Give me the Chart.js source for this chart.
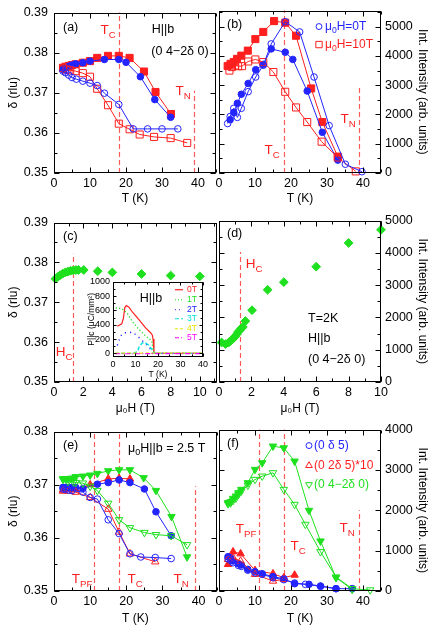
<!DOCTYPE html>
<html><head><meta charset="utf-8">
<script src="https://cdn.jsdelivr.net/npm/chart.js@4.4.1/dist/chart.umd.min.js"></script>
<style>
html,body{margin:0;padding:0;background:#fff;}
body{width:436px;height:626px;overflow:hidden;position:relative;}
canvas{position:absolute;}
</style></head><body>
<script>
// ---------------- DATA ----------------
// reference temperatures / fields
const TC = 18, TN = 39, TPF = 11, HC = 1.3;

// (a) delta vs T, H||b
const aT_0T_fill  = [2.5,3.2,4.1,5,6,8,10,14,18,20,24,28,32.4];
const aD_0T_fill  = [0.3758,0.3762,0.3766,0.3769,0.3772,0.3775,0.3779,0.3783,0.3783,0.3776,0.3740,0.3683,0.3639];
const aT_0T_open  = [2.5,3.2,4.1,5,6.2,8,10,12,14,18,22,26,30,34.4];
const aD_0T_open  = [0.3754,0.3750,0.3744,0.3738,0.3734,0.3729,0.3724,0.3718,0.3699,0.3671,0.3610,0.3610,0.3610,0.3610];
const aT_10T_fill = [2.5,3.2,4.1,5,6,8,10,12,15,18,21,25,28.2,32.5];
const aD_10T_fill = [0.3762,0.3765,0.3767,0.3769,0.3771,0.3775,0.3779,0.3787,0.3792,0.3792,0.3787,0.3753,0.3702,0.3647];
const aT_10T_open = [2.5,3.5,4.5,6,8,10,12,15,18,21,23.8,27.8,32.4,37];
const aD_10T_open = [0.3762,0.3758,0.3756,0.3754,0.3749,0.3740,0.3710,0.3669,0.3623,0.3609,0.3596,0.3590,0.3587,0.3575];

// (b) intensity vs T
const bT_0T_fill  = [3.1,4.1,5.1,6.2,8.1,10.2,12.3,14.5,18.4,20.5,24.5,28.7,33];
const bI_0T_fill  = [1820,2070,2380,2690,3060,3530,3710,4240,4125,3880,2800,1390,440];
const bT_0T_open  = [2.4,3.1,4.1,5.1,6.2,8.1,10.2,12.3,14.5,18.4,22.4,26.4,30.6,35.1,39.7];
const bI_0T_open  = [1690,1930,2210,1900,2210,2780,3280,3680,4410,5170,4820,3280,1620,300,45];
const bT_10T_fill = [2.4,3.2,4.1,5,6.2,8,10.1,12.3,15.3,18.4,21.4,25.6,28.7,33];
const bI_10T_fill = [3653,3730,3790,3900,4010,4180,4575,4820,5190,5135,4690,2890,1740,560];
const bT_10T_open = [2.9,3.6,4.5,5.3,6.4,8.1,10.1,12.3,15.1,18.4,21.4,24.5,28.5,33,38];
const bI_10T_open = [3500,3620,3675,3650,3650,3810,3880,3790,3450,2775,2240,1740,1070,530,55];

// (c) delta vs field, (d) intensity vs field at T=2K
const cH = [0.1,0.27,0.43,0.6,0.78,0.96,1.14,1.32,1.5,1.68,2.04,3,4,6,8,10];
const cD = [0.3759,0.3764,0.3768,0.3772,0.3775,0.3777,0.3779,0.3780,0.3781,0.3781,0.3781,0.3778,0.3775,0.3771,0.3767,0.3765];
const dH = [0.16,0.4,0.6,0.73,0.84,0.94,1.02,1.1,1.18,1.28,1.38,1.47,1.63,2.04,3,4,6,8,10];
const dI = [1224,1173,1224,1276,1327,1378,1429,1480,1551,1602,1663,1704,1888,2224,2857,3092,3571,4306,4714];

// inset: polarization P||c vs T
const inT_0T = [1.9,3.9,4.6,5.3,5.9,7.1,8.6,11.6,14.5,16.7,17.5,17.8,18.2,19,25,30,35,40];
const inP_0T = [378,413,489,644,667,644,578,467,356,289,253,200,13,0,0,0,0,0];
const inT_1T = [1.2,4.1,6.4,8.6,11.6,14.5,17.2,18.2,25,30,35,40];
const inP_1T = [636,622,556,444,333,244,178,0,0,0,0,0];
const inT_2T = [1.9,3.4,4.9,7.1,8.6,10.8,13,15.3,16.7,17.5,25,30,35,40];
const inP_2T = [111,244,289,289,298,244,178,111,58,0,0,0,0,0];
const inT_3T = [1,8.6,10.8,11.6,13,14.5,16,17.5,18.2,25,30,35,40];
const inP_3T = [0,0,22,89,147,147,111,44,0,0,0,0,0];
const inT_4T = [1,10,20,30,40];
const inP_4T = [5,5,3,3,3];
const inT_5T = [1,10,20,30,40];
const inP_5T = [-5,-5,-3,-3,-3];

// (e) delta vs T at 2.5 T
const eT_g_fill = [2.5,3.2,3.9,4.7,5.4,6,8,10,12,15,18,21,24.8,28.2,32.5,36.8];
const eD_g_fill = [0.3711,0.3711,0.3711,0.3712,0.3712,0.3715,0.3716,0.3718,0.3721,0.3726,0.3728,0.3728,0.3713,0.3689,0.3640,0.3564];
const eT_g_open = [2.5,3.9,5.4,6,8,10,12,15,18,21,25,28.2,32.4,36.8];
const eD_g_open = [0.3710,0.3706,0.3705,0.3704,0.3703,0.3697,0.3689,0.3665,0.3634,0.3619,0.3610,0.3606,0.3604,0.3587];
const eT_b_fill = [2.5,3.2,4.1,5,6,8,12,15,18,21,25,28.2,32.4];
const eD_b_fill = [0.3695,0.3695,0.3695,0.3695,0.3695,0.3693,0.3701,0.3704,0.3709,0.3704,0.3692,0.3649,0.3604];
const eT_b_open = [2.5,3.2,4.1,5,8,10,12,15,18,21,24,28,32.4];
const eD_b_open = [0.3692,0.3691,0.3690,0.3689,0.3686,0.3676,0.3673,0.3634,0.3608,0.3570,0.3564,0.3563,0.3561];
const eT_r_fill = [2.5,4,6,10,15,18,21];
const eD_r_fill = [0.3690,0.3692,0.3692,0.3700,0.3711,0.3712,0.3711];
const eT_r_open = [2.5,4,6,10,15,18,21,28];
const eD_r_open = [0.3688,0.3688,0.3686,0.3676,0.3654,0.3611,0.3570,0.3555];

// (f) intensity vs T at 2.5 T
const fT_g_fill = [2.5,3.2,3.9,4.7,5.4,6.2,8,10,12,15,18,21,25,28.2,32.5,37];
const fI_g_fill = [2186,2210,2293,2350,2433,2515,2680,3010,3175,3588,3546,3216,1996,1237,330,41];
const fT_g_open = [2.5,3.2,3.9,4.7,5.4,6.2,8,10,12,15,18,21,24,28.2,32.5,37,42];
const fI_g_open = [2160,2180,2240,2300,2390,2474,2620,2763,2845,2928,2515,2144,1650,973,346,58,25];
const fT_b_fill = [2.5,3.2,3.9,5.4,6.2,8,10,12,15,18,21,25,28.2,32.5,37];
const fI_b_fill = [850,825,742,676,645,536,478,429,355,305,181,165,124,58,58];
const fT_b_open = [2.5,3.2,3.9,5.4,6.2,8,10,12,15,18,21,24,28.2,32.5];
const fI_b_open = [800,760,700,635,610,515,450,412,330,280,198,165,115,58];
const fT_r_fill = [2.5,3.9,6,10,15,18,21];
const fI_r_fill = [660,973,924,511,429,330,396];
const fT_r_open = [2.5,3.9,6,10,15,18];
const fI_r_open = [783,825,742,412,247,289];

// ---------------- STYLE ----------------
const FONT = "'Liberation Sans',Arial,sans-serif";
const BLUE = '#2424ff', RED = '#ff1f1f', GREEN = '#1ee01e', REFC = '#ff5a5a';
const CYAN = '#00dede', YELLOW = '#e6e600', MAGENTA = '#ff00ff';
const TICKFS = 12.5, TITLEFS = 12, ANNFS = 12.5, LEGFS = 12;
Chart.defaults.font.family = FONT;
Chart.defaults.font.size = TICKFS;
Chart.defaults.color = '#000';

const RAD = {circle:3.3, rect:5, triangle:4.3, triDown:4.3, rectRot:4.4};
function ds(xs, ys, color, style, filled, extra) {
  return Object.assign({
    data: xs.map((x, i) => ({x: x, y: ys[i]})),
    showLine: true, borderColor: color, borderWidth: 1, fill: false, tension: 0,
    pointStyle: style === 'triDown' ? 'triangle' : style,
    pointRotation: style === 'triDown' ? 180 : 0,
    pointRadius: RAD[style], pointHoverRadius: RAD[style],
    pointBackgroundColor: filled ? color : 'rgba(0,0,0,0)',
    pointBorderColor: color, pointBorderWidth: 1, clip: 8
  }, extra || {});
}
function lineDs(xs, ys, color, dash, w) {
  return {data: xs.map((x, i) => ({x: x, y: ys[i]})), showLine: true, borderColor: color,
          borderWidth: w || 1.2, borderDash: dash, pointRadius: 0, fill: false, tension: 0};
}

// rich text with subscripts
function rich(ctx, parts, x, y, size, color, align) {
  ctx.save();
  ctx.fillStyle = color; ctx.textBaseline = 'middle'; ctx.textAlign = 'left';
  let w = 0;
  const fN = size + 'px ' + FONT, fS = (size * 0.72).toFixed(1) + 'px ' + FONT;
  const ws = parts.map(p => { ctx.font = p[1] === 's' ? fS : fN; const m = ctx.measureText(p[0]).width; w += m; return m; });
  let cx = align === 'center' ? x - w / 2 : (align === 'right' ? x - w : x);
  parts.forEach((p, i) => { ctx.font = p[1] === 's' ? fS : fN; ctx.fillText(p[0], cx, p[1] === 's' ? y + size * 0.32 : y); cx += ws[i]; });
  ctx.restore();
}
function symbol(ctx, shape, x, y, color, filled) {
  ctx.save(); ctx.strokeStyle = color; ctx.fillStyle = color; ctx.lineWidth = 1; ctx.beginPath();
  const r = RAD[shape] * 0.9;
  if (shape === 'circle') ctx.arc(x, y, r, 0, Math.PI * 2);
  else if (shape === 'rect') { const h = r * Math.SQRT1_2; ctx.rect(x - h, y - h, 2 * h, 2 * h); }
  else if (shape === 'triangle' || shape === 'triDown') {
    const s = shape === 'triDown' ? -1 : 1;
    for (let k = 0; k < 3; k++) { const a = k * 2 * Math.PI / 3; const px = x + Math.sin(a) * r, py = y - s * Math.cos(a) * r; k ? ctx.lineTo(px, py) : ctx.moveTo(px, py); }
    ctx.closePath();
  }
  if (filled) ctx.fill();
  ctx.stroke(); ctx.restore();
}
function tickVals(min, max, step) {
  const out = []; const n0 = Math.ceil(min / step - 1e-6), n1 = Math.floor(max / step + 1e-6);
  for (let i = n0; i <= n1; i++) out.push(i * step);
  return out;
}

function makeDeco(o) {
  return {
    id: 'deco_' + o.name,
    beforeDraw(chart) {
      if (!o.whiteBg) return;
      const a = chart.chartArea, ctx = chart.ctx;
      ctx.save(); ctx.fillStyle = '#fff'; ctx.fillRect(a.left, a.top, a.right - a.left, a.bottom - a.top); ctx.restore();
    },
    beforeDatasetsDraw(chart) {
      const {ctx, scales: {x, y}} = chart;
      (o.refs || []).forEach(r => {
        ctx.save(); ctx.strokeStyle = REFC; ctx.lineWidth = 1.2; ctx.setLineDash([5, 3]);
        const px = Math.round(x.getPixelForValue(r.x)) + 0.5;
        ctx.beginPath(); ctx.moveTo(px, y.getPixelForValue(r.y0)); ctx.lineTo(px, y.getPixelForValue(r.y1)); ctx.stroke();
        ctx.restore();
      });
    },
    afterDatasetsDraw(chart) {
      const {ctx, chartArea: a, scales: {x, y}} = chart;
      ctx.save();
      ctx.strokeStyle = '#000'; ctx.lineWidth = 1;
      const L = Math.round(a.left) + 0.5, R = Math.round(a.right) - 0.5, T = Math.round(a.top) + 0.5, B = Math.round(a.bottom) - 0.5;
      ctx.strokeRect(L, T, R - L, B - T);
      const tl = o.tickLen || [5, 3];
      ctx.beginPath();
      [[o.x.step, tl[0]], [o.x.minor, tl[1]]].forEach(([st, len]) => {
        if (!st) return;
        tickVals(o.x.min, o.x.max, st).forEach(v => {
          const px = Math.round(x.getPixelForValue(v)) + 0.5;
          ctx.moveTo(px, B); ctx.lineTo(px, B - len); ctx.moveTo(px, T); ctx.lineTo(px, T + len);
        });
      });
      [[o.y.step, tl[0]], [o.y.minor, tl[1]]].forEach(([st, len]) => {
        if (!st) return;
        tickVals(o.y.min, o.y.max, st).forEach(v => {
          const py = Math.round(y.getPixelForValue(v)) + 0.5;
          ctx.moveTo(L, py); ctx.lineTo(L + len, py); ctx.moveTo(R, py); ctx.lineTo(R - len, py);
        });
      });
      ctx.stroke();
      ctx.restore();
      (o.texts || []).forEach(t => rich(ctx, t.p, a.left + t.rx, a.top + t.ry, t.size || ANNFS, t.color || '#000', t.align || 'left'));
      (o.legend || []).forEach(l => {
        if (l.shape === 'line') {
          ctx.save(); ctx.strokeStyle = l.color; ctx.lineWidth = 1.2; ctx.setLineDash(l.dash || []);
          ctx.beginPath(); ctx.moveTo(a.left + l.rx - 4, a.top + l.ry); ctx.lineTo(a.left + l.rx + 4, a.top + l.ry); ctx.stroke(); ctx.restore();
        } else symbol(ctx, l.shape, a.left + l.rx, a.top + l.ry, l.color, l.filled);
        rich(ctx, l.p, a.left + l.tx, a.top + l.ry, l.size || LEGFS, l.color, 'left');
      });
    }
  };
}

function panel(o) {
  const cv = document.createElement('canvas');
  cv.width = o.w; cv.height = o.h;
  cv.style.left = o.left + 'px'; cv.style.top = o.top + 'px';
  cv.style.width = o.w + 'px'; cv.style.height = o.h + 'px';
  document.body.appendChild(cv);
  const fs = o.fs || TICKFS, tfs = o.tfs || TITLEFS;
  return new Chart(cv, {
    type: 'scatter',
    data: {datasets: o.datasets},
    options: {
      responsive: false, animation: false, devicePixelRatio: 1,
      layout: {padding: o.pad},
      plugins: {legend: {display: false}, tooltip: {enabled: false}},
      scales: {
        x: {type: 'linear', position: 'bottom', min: o.x.min, max: o.x.max,
            grid: {display: false, drawTicks: false}, border: {display: false},
            afterBuildTicks(s) { s.ticks = tickVals(o.x.min, o.x.max, o.x.step).map(v => ({value: v})); },
            ticks: {padding: o.x.tpad, maxRotation: 0, autoSkip: false,
                    font: {size: fs}, callback: v => String(Math.round(v * 100) / 100)},
            title: {display: !!o.x.title, text: o.x.title, padding: 0, font: {size: tfs}},
            afterFit(s) { s.height = o.x.h; }},
        y: {type: 'linear', position: o.y.pos, min: o.y.min, max: o.y.max,
            grid: {display: false, drawTicks: false}, border: {display: false},
            afterBuildTicks(s) { s.ticks = tickVals(o.y.min, o.y.max, o.y.step).map(v => ({value: v})); },
            ticks: {padding: o.y.tpad, autoSkip: false,
                    font: {size: fs, lineHeight: 1.05}, callback: v => v.toFixed(o.y.dec)},
            title: {display: !!o.y.title, text: o.y.title, padding: {top: o.y.titlePad, bottom: 0}, font: {size: o.y.tfs || tfs}},
            afterFit(s) { s.width = o.y.w; }}
      }
    },
    plugins: [makeDeco(o)]
  });
}

const sub = (a, b, c) => c ? [[a, 'n'], [b, 's'], [c, 'n']] : [[a, 'n'], [b, 's']];
const txt = s => [[s, 'n']];

const leftY = (title, min, max, step, minor, dec) => ({pos: 'left', min, max, step, minor, dec, w: 54, tpad: 6, title, titlePad: 6});
const rightY = (min, max, step, minor) => ({pos: 'right', min, max, step, minor, dec: 0, w: 55, tpad: 4, title: 'Int. Intensity (arb. units)', titlePad: 6});

// ---------- (a) ----------
panel({name: 'a', left: 0, top: 0, w: 222, h: 206, pad: {top: 8, right: 3, left: 0, bottom: 0},
  x: {min: 0, max: 45, step: 10, minor: 5, title: 'T (K)', h: 33, tpad: 3},
  y: leftY('δ (rlu)', 0.35, 0.39, 0.01, 0.005, 2),
  refs: [{x: TC, y0: 0.35, y1: 0.39}, {x: TN, y0: 0.35, y1: 0.3705}],
  datasets: [
    ds(aT_0T_open, aD_0T_open, BLUE, 'circle', false),
    ds(aT_10T_open, aD_10T_open, RED, 'rect', false),
    ds(aT_0T_fill, aD_0T_fill, BLUE, 'circle', true),
    ds(aT_10T_fill, aD_10T_fill, RED, 'rect', true)
  ],
  texts: [
    {p: txt('(a)'), rx: 9, ry: 15},
    {p: sub('T', 'C'), rx: 54, ry: 18, color: RED, align: 'center', size: 13.5},
    {p: txt('H||b'), rx: 109, ry: 17, align: 'center'},
    {p: txt('(0 4−2δ 0)'), rx: 126, ry: 39, align: 'center'},
    {p: sub('T', 'N'), rx: 129, ry: 79, color: RED, align: 'center', size: 13.5}
  ]});

// ---------- (b) ----------
panel({name: 'b', left: 200, top: 0, w: 236, h: 206, pad: {top: 8, left: 19, right: 0, bottom: 0},
  x: {min: 0, max: 45, step: 10, minor: 5, title: 'T (K)', h: 33, tpad: 3},
  y: rightY(0, 5550, 1000, 500),
  refs: [{x: TC, y0: 0, y1: 5550}, {x: TN, y0: 0, y1: 3000}],
  datasets: [
    ds(bT_0T_open, bI_0T_open, BLUE, 'circle', false),
    ds(bT_10T_open, bI_10T_open, RED, 'rect', false),
    ds(bT_0T_fill, bI_0T_fill, BLUE, 'circle', true),
    ds(bT_10T_fill, bI_10T_fill, RED, 'rect', true)
  ],
  texts: [
    {p: txt('(b)'), rx: 8, ry: 14},
    {p: sub('T', 'C'), rx: 53, ry: 140, color: RED, align: 'center', size: 13.5},
    {p: sub('T', 'N'), rx: 129, ry: 109, color: RED, align: 'center', size: 13.5}
  ],
  legend: [
    {shape: 'circle', filled: false, color: BLUE, rx: 100, ry: 16, tx: 106, p: [['μ', 'n'], ['0', 's'], ['H=0T', 'n']]},
    {shape: 'rect', filled: false, color: RED, rx: 100, ry: 34, tx: 106, p: [['μ', 'n'], ['0', 's'], ['H=10T', 'n']]}
  ]});

// ---------- (c) ----------
panel({name: 'c', left: 0, top: 210, w: 222, h: 206, pad: {top: 8, right: 3, left: 0, bottom: 0},
  x: {min: 0, max: 11.15, step: 2, minor: 1, title: 'μ₀H (T)', h: 34, tpad: 3},
  y: leftY('δ (rlu)', 0.35, 0.39, 0.01, 0.005, 2),
  refs: [{x: HC, y0: 0.35, y1: 0.3822}],
  datasets: [ds(cH, cD, GREEN, 'rectRot', true, {showLine: false})],
  texts: [
    {p: txt('(c)'), rx: 9, ry: 14},
    {p: sub('H', 'C'), rx: 10, ry: 130, color: RED, align: 'center', size: 13.5}
  ]});

// ---------- (d) ----------
panel({name: 'd', left: 200, top: 210, w: 236, h: 206, pad: {top: 8, left: 19, right: 0, bottom: 0},
  x: {min: 0, max: 10, step: 2, minor: 1, title: 'μ₀H (T)', h: 34, tpad: 3},
  y: rightY(0, 5000, 1000, 500),
  refs: [{x: HC, y0: 0, y1: 4030}],
  datasets: [ds(dH, dI, GREEN, 'rectRot', true, {showLine: false})],
  texts: [
    {p: txt('(d)'), rx: 8, ry: 13},
    {p: sub('H', 'C'), rx: 35, ry: 44, color: RED, align: 'center', size: 13.5},
    {p: txt('T=2K'), rx: 89, ry: 98},
    {p: txt('H||b'), rx: 89, ry: 118},
    {p: txt('(0 4−2δ 0)'), rx: 89, ry: 139}
  ]});

// ---------- inset of (c) ----------
panel({name: 'inset', left: 80, top: 274, w: 130, h: 106, pad: {top: 6, right: 6, left: 0, bottom: 0},
  whiteBg: true, fs: 9, tfs: 8.5, tickLen: [3, 2],
  x: {min: 0, max: 40, step: 10, minor: 5, title: 'T (K)', h: 23, tpad: 2},
  y: {pos: 'left', min: -50, max: 1000, step: 200, minor: 100, dec: 0, w: 33, tpad: 3, title: 'P||c (μC/mm²)', titlePad: 6.6, tfs: 8.5},
  datasets: [
    lineDs(inT_5T, inP_5T, MAGENTA, [5, 2, 1, 2]),
    lineDs(inT_4T, inP_4T, YELLOW, [4, 2]),
    lineDs(inT_3T, inP_3T, CYAN, [4, 2], 1.4),
    lineDs(inT_2T, inP_2T, BLUE, [1.2, 4], 1.4),
    lineDs(inT_1T, inP_1T, GREEN, [1.2, 2.2], 1.3),
    lineDs(inT_0T, inP_0T, RED, [], 1.2)
  ],
  texts: [{p: txt('H||b'), rx: 38, ry: 17, align: 'center', size: 12.5}],
  legend: [
    {shape: 'line', color: RED, dash: [], rx: 66, ry: 8, tx: 74, p: txt('0T'), size: 8.5},
    {shape: 'line', color: GREEN, dash: [1, 2], rx: 66, ry: 18, tx: 74, p: txt('1T'), size: 8.5},
    {shape: 'line', color: BLUE, dash: [1, 3], rx: 66, ry: 28, tx: 74, p: txt('2T'), size: 8.5},
    {shape: 'line', color: CYAN, dash: [4, 2], rx: 66, ry: 37, tx: 74, p: txt('3T'), size: 8.5},
    {shape: 'line', color: YELLOW, dash: [3, 2], rx: 66, ry: 47, tx: 74, p: txt('4T'), size: 8.5},
    {shape: 'line', color: MAGENTA, dash: [4, 2, 1, 2], rx: 66, ry: 56, tx: 74, p: txt('5T'), size: 8.5}
  ]});

// ---------- (e) ----------
panel({name: 'e', left: 0, top: 419, w: 222, h: 207, pad: {top: 8, right: 3, left: 0, bottom: 0},
  x: {min: 0, max: 45, step: 10, minor: 5, title: 'T (K)', h: 35, tpad: 3},
  y: leftY('δ (rlu)', 0.35, 0.38, 0.01, 0.005, 2),
  refs: [{x: TPF, y0: 0.35, y1: 0.38}, {x: TC, y0: 0.35, y1: 0.38}, {x: TN, y0: 0.35, y1: 0.3697}],
  datasets: [
    ds(eT_b_open, eD_b_open, BLUE, 'circle', false),
    ds(eT_r_open, eD_r_open, RED, 'triangle', false),
    ds(eT_g_open, eD_g_open, GREEN, 'triDown', false),
    ds(eT_b_fill, eD_b_fill, BLUE, 'circle', true),
    ds(eT_r_fill, eD_r_fill, RED, 'triangle', true),
    ds(eT_g_fill, eD_g_fill, GREEN, 'triDown', true)
  ],
  texts: [
    {p: txt('(e)'), rx: 9, ry: 14},
    {p: [['μ', 'n'], ['0', 's'], ['H||b = 2.5 T', 'n']], rx: 74, ry: 17},
    {p: sub('T', 'PF'), rx: 28, ry: 148, color: RED, align: 'center', size: 13.5},
    {p: sub('T', 'C'), rx: 81, ry: 148, color: RED, align: 'center', size: 13.5},
    {p: sub('T', 'N'), rx: 127, ry: 148, color: RED, align: 'center', size: 13.5}
  ]});

// ---------- (f) ----------
panel({name: 'f', left: 200, top: 419, w: 236, h: 207, pad: {top: 8, left: 19, right: 0, bottom: 0},
  x: {min: 0, max: 45, step: 10, minor: 5, title: 'T (K)', h: 35, tpad: 3},
  y: rightY(0, 4000, 1000, 500),
  refs: [{x: TPF, y0: 0, y1: 4000}, {x: TC, y0: 0, y1: 4000}, {x: TN, y0: 0, y1: 2000}],
  datasets: [
    ds(fT_b_open, fI_b_open, BLUE, 'circle', false),
    ds(fT_r_open, fI_r_open, RED, 'triangle', false),
    ds(fT_g_open, fI_g_open, GREEN, 'triDown', false),
    ds(fT_b_fill, fI_b_fill, BLUE, 'circle', true),
    ds(fT_r_fill, fI_r_fill, RED, 'triangle', true),
    ds(fT_g_fill, fI_g_fill, GREEN, 'triDown', true)
  ],
  texts: [
    {p: txt('(f)'), rx: 8, ry: 14},
    {p: sub('T', 'PF'), rx: 27, ry: 100, color: RED, align: 'center', size: 13.5},
    {p: sub('T', 'C'), rx: 79, ry: 117, color: RED, align: 'center', size: 13.5},
    {p: sub('T', 'N'), rx: 128, ry: 99, color: RED, align: 'center', size: 13.5}
  ],
  legend: [
    {shape: 'circle', filled: false, color: BLUE, rx: 90, ry: 16, tx: 95, p: txt('(0 δ 5)')},
    {shape: 'triangle', filled: false, color: RED, rx: 90, ry: 36, tx: 95, p: txt('(0 2δ 5)*10')},
    {shape: 'triDown', filled: false, color: GREEN, rx: 90, ry: 55, tx: 95, p: txt('(0 4−2δ 0)')}
  ]});
</script>
</body></html>
